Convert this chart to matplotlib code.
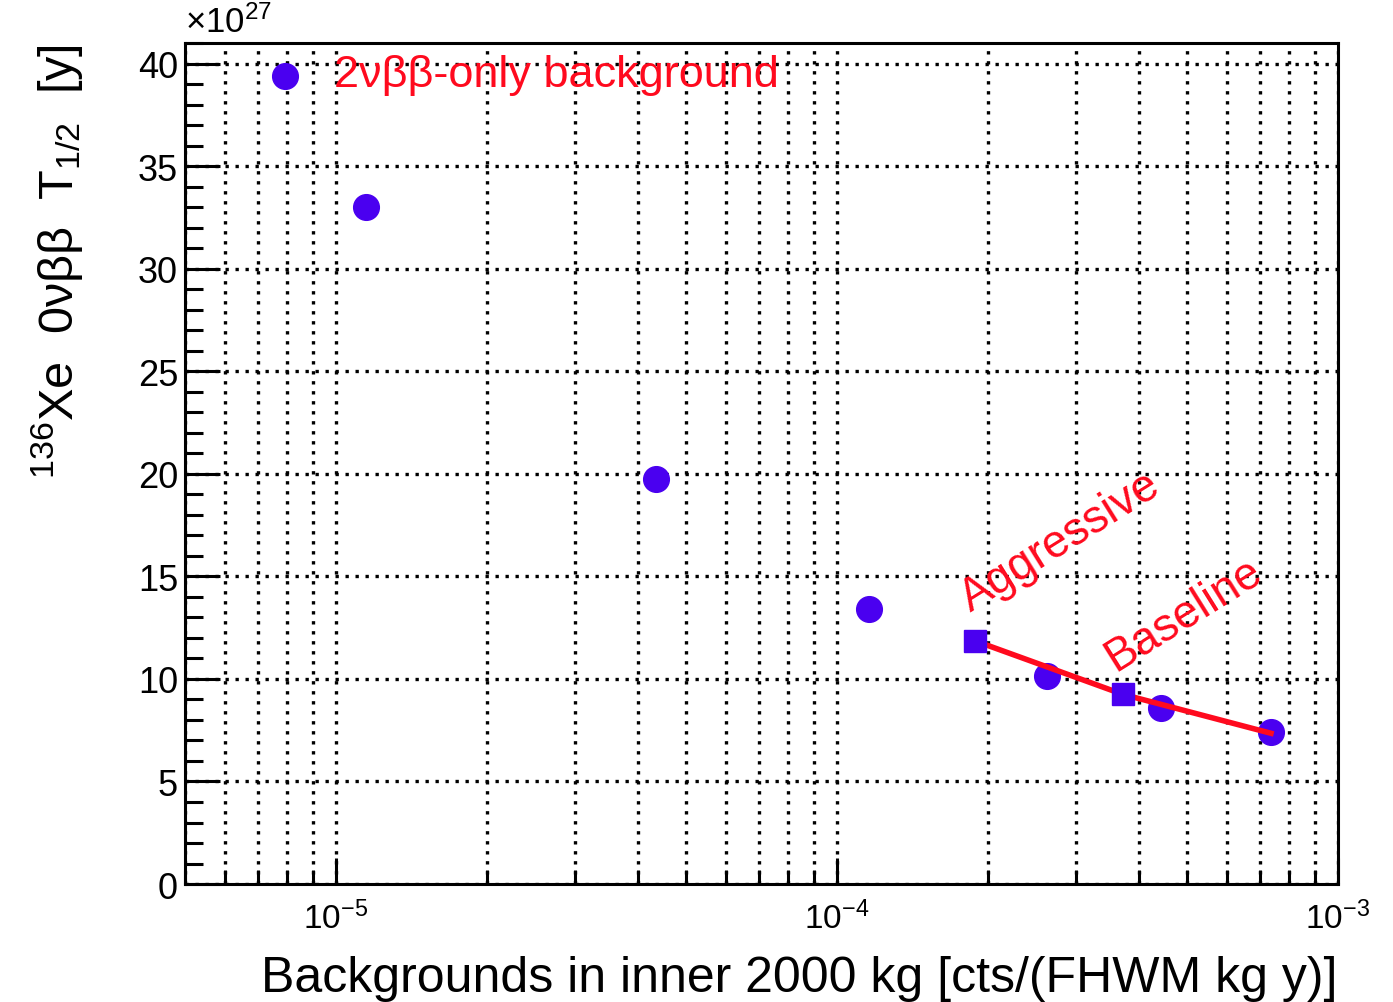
import numpy as np
import matplotlib
matplotlib.use("Agg")
from matplotlib import pyplot as plt
from matplotlib.ticker import LogLocator, MultipleLocator, LogFormatterSciNotation

plt.rcParams["font.family"] = ["Liberation Sans", "DejaVu Sans"]
plt.rcParams["mathtext.fontset"] = "custom"
plt.rcParams["mathtext.rm"] = "Liberation Sans"
plt.rcParams["mathtext.it"] = "Liberation Sans:italic"
plt.rcParams["mathtext.default"] = "regular"

# background scan (circles), half-life in units of 1e27 y
bkg_x = [7.9e-6, 1.15e-5, 4.35e-5, 1.16e-4, 2.62e-4, 4.43e-4, 7.35e-4]
bkg_y = [39.4, 33.0, 19.75, 13.4, 10.15, 8.6, 7.4]

# design scenarios (squares)
scen_names = ["Aggressive", "Baseline"]
scen_x = [1.89e-4, 3.72e-4]
scen_y = [11.85, 9.25]

# red curve through the scenarios
curve_x = [1.89e-4, 3.72e-4, 7.35e-4]
curve_y = [11.85, 9.25, 7.35]

BLUE = "#4a00f0"
RED = "#ff0a1e"

fig = plt.figure(figsize=(13.93, 10.03), dpi=100)
ax = fig.add_axes([0.1328, 0.1176, 0.8277, 0.8385])

ax.plot(bkg_x, bkg_y, "o", color=BLUE, ms=18.5, zorder=3)
ax.plot(curve_x, curve_y, "-", color=RED, lw=4, zorder=4)
ax.plot(scen_x, scen_y, "s", color=BLUE, ms=15.5, zorder=5)

ax.set_xscale("log")
ax.set_xlim(5e-6, 1e-3)
ax.set_ylim(0, 41)

# axis ticks, ROOT style
ax.xaxis.set_major_locator(LogLocator(base=10))
ax.xaxis.set_minor_locator(LogLocator(base=10, subs=np.arange(2, 10)))
ax.xaxis.set_major_formatter(LogFormatterSciNotation())
ax.xaxis.set_minor_formatter(plt.NullFormatter())
ax.yaxis.set_major_locator(MultipleLocator(5))
ax.yaxis.set_minor_locator(MultipleLocator(1))

ax.tick_params(axis="both", which="both", direction="in", width=2.2,
               top=False, right=False)
ax.tick_params(axis="y", which="major", length=25, pad=5, labelsize=26)
ax.tick_params(axis="y", which="minor", length=13)
ax.tick_params(axis="x", which="major", length=19, pad=12, labelsize=24)
ax.tick_params(axis="x", which="minor", length=10)

for s in ax.spines.values():
    s.set_linewidth(2.2)

grid_kw = dict(color="black", lw=2.4, linestyle=(0, (1, 2)))
ax.grid(True, which="both", axis="x", **grid_kw)
ax.grid(True, which="major", axis="y", **grid_kw)
ax.set_axisbelow(True)

ax.set_xlabel("Backgrounds in inner 2000 kg [cts/(FHWM kg y)]",
              fontsize=36, loc="right", labelpad=14)
ax.text(-0.111, 1.0, r"$^{136}$Xe  0νββ  T$_{1/2}$  [y]", transform=ax.transAxes,
        rotation=90, ha="center", va="top", fontsize=35)
ax.text(0.0, 1.005, r"×10$^{27}$", transform=ax.transAxes,
        ha="left", va="bottom", fontsize=25)

# annotations
ax.text(9.9e-6, 39.45, "2νββ-only background", color=RED, fontsize=32.5,
        ha="left", va="center")
ax.text(1.85e-4, 13.3, scen_names[0], color=RED, fontsize=33, rotation=32,
        rotation_mode="anchor", ha="left", va="baseline")
ax.text(3.6e-4, 10.4, scen_names[1], color=RED, fontsize=33, rotation=32,
        rotation_mode="anchor", ha="left", va="baseline")

fig.savefig("out.png", dpi=100)
